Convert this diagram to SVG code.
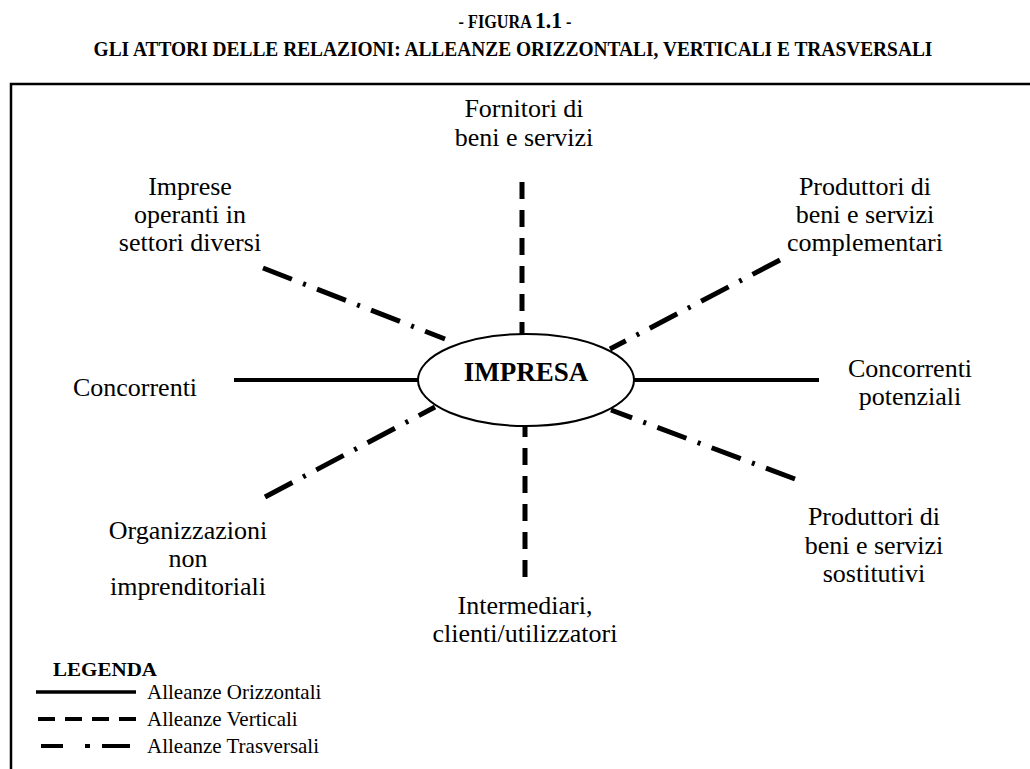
<svg xmlns="http://www.w3.org/2000/svg" width="1030" height="769" viewBox="0 0 1030 769">
  <style>
    .lbl { font-family: "Liberation Serif", "Times New Roman", serif; font-size: 26px; fill: #000; text-anchor: middle; }
    .ttl { font-family: "Liberation Serif", "Times New Roman", serif; font-weight: bold; fill: #000; }
    .leg { font-family: "Liberation Serif", "Times New Roman", serif; font-size: 21px; fill: #000; }
    .solid { stroke: #000; stroke-width: 4; fill: none; }
    .dash { stroke: #000; stroke-width: 5; fill: none; stroke-dasharray: 17 11; }
    .dashdot { stroke: #000; stroke-width: 5; fill: none; stroke-dasharray: 31 12 3 12; }
  </style>
  <rect x="0" y="0" width="1030" height="769" fill="#fff"/>

  <!-- heading, set in a narrowed bold serif -->
  <g id="title">
    <text class="ttl" transform="translate(515,28) scale(0.9,1)" text-anchor="middle"><tspan font-size="18">- FIGURA </tspan><tspan font-size="24">1.1</tspan><tspan font-size="18"> -</tspan></text>
    <text class="ttl" transform="translate(513,56) scale(0.882,1)" font-size="22" text-anchor="middle">GLI ATTORI DELLE RELAZIONI: ALLEANZE ORIZZONTALI, VERTICALI E TRASVERSALI</text>
  </g>

  <!-- frame (left and top edges) -->
  <path d="M11 769 V84 H1030" stroke="#000" stroke-width="2.5" fill="none"/>

  <!-- connectors -->
  <g id="connectors">
    <line class="solid" x1="234" y1="380" x2="418" y2="380"/>
    <line class="solid" x1="634" y1="380" x2="819" y2="380"/>
    <line class="dash" x1="522" y1="182" x2="522" y2="334"/>
    <line class="dash" x1="525" y1="577" x2="525" y2="426"/>
    <line class="dashdot" x1="263" y1="268" x2="445" y2="339"/>
    <line class="dashdot" x1="780" y1="260" x2="610" y2="349"/>
    <line class="dashdot" x1="265" y1="497" x2="435" y2="407"/>
    <line class="dashdot" x1="795" y1="479" x2="611" y2="410"/>
  </g>

  <!-- central node -->
  <g id="impresa">
    <ellipse cx="526" cy="380" rx="108" ry="46" fill="#fff" stroke="#000" stroke-width="2"/>
    <text class="ttl" x="526" y="381" font-size="27" text-anchor="middle">IMPRESA</text>
  </g>

  <g id="fornitori">
    <text class="lbl" x="524" y="117">Fornitori di</text>
    <text class="lbl" x="524" y="146">beni e servizi</text>
  </g>
  <g id="imprese-altri-settori">
    <text class="lbl" x="190" y="195">Imprese</text>
    <text class="lbl" x="190" y="223">operanti in</text>
    <text class="lbl" x="190" y="251">settori diversi</text>
  </g>
  <g id="complementari">
    <text class="lbl" x="865" y="195">Produttori di</text>
    <text class="lbl" x="865" y="223">beni e servizi</text>
    <text class="lbl" x="865" y="251">complementari</text>
  </g>
  <g id="concorrenti">
    <text class="lbl" x="135" y="396">Concorrenti</text>
  </g>
  <g id="concorrenti-potenziali">
    <text class="lbl" x="910" y="377">Concorrenti</text>
    <text class="lbl" x="910" y="405">potenziali</text>
  </g>
  <g id="organizzazioni">
    <text class="lbl" x="188" y="539">Organizzazioni</text>
    <text class="lbl" x="188" y="567">non</text>
    <text class="lbl" x="188" y="595">imprenditoriali</text>
  </g>
  <g id="sostitutivi">
    <text class="lbl" x="874" y="525">Produttori di</text>
    <text class="lbl" x="874" y="554">beni e servizi</text>
    <text class="lbl" x="874" y="582">sostitutivi</text>
  </g>
  <g id="intermediari">
    <text class="lbl" x="525" y="614">Intermediari,</text>
    <text class="lbl" x="525" y="642">clienti/utilizzatori</text>
  </g>

  <!-- key -->
  <g id="legenda">
    <text class="ttl" x="53" y="676" font-size="18" textLength="104" lengthAdjust="spacingAndGlyphs">LEGENDA</text>
    <line x1="36" y1="692" x2="136" y2="692" stroke="#000" stroke-width="3.5"/>
    <text class="leg" x="147" y="699">Alleanze Orizzontali</text>
    <line x1="38" y1="719" x2="136" y2="719" stroke="#000" stroke-width="4" stroke-dasharray="17 10"/>
    <text class="leg" x="147" y="726">Alleanze Verticali</text>
    <g stroke="#000" stroke-width="4">
      <line x1="41" y1="746" x2="63" y2="746"/>
      <line x1="85" y1="746" x2="90" y2="746"/>
      <line x1="102" y1="746" x2="130" y2="746"/>
    </g>
    <text class="leg" x="147" y="753">Alleanze Trasversali</text>
  </g>
</svg>
